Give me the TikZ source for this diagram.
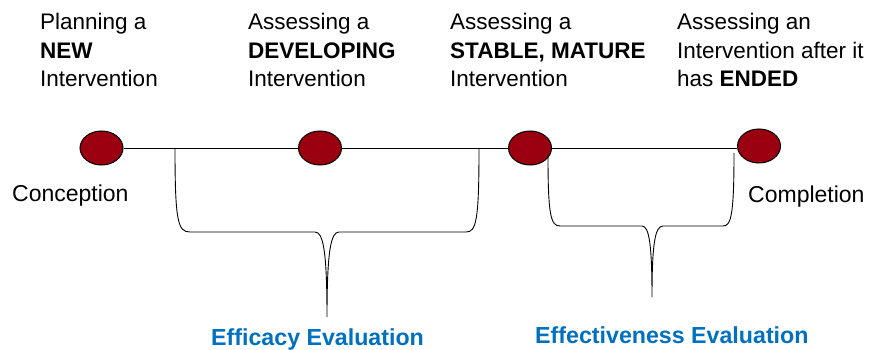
\documentclass[tikz,border=0pt]{standalone}
\usepackage{fontspec}
\setmainfont{Liberation Sans}
\usetikzlibrary{shapes.geometric}
\definecolor{dotred}{RGB}{155,0,16}
\definecolor{evalblue}{RGB}{0,112,192}
\tikzset{
  milestone/.style={ellipse, draw=black, line width=1pt, fill=dotred, minimum width=43pt, minimum height=34pt, inner sep=0pt},
  stagetext/.style={anchor=north west, inner sep=0pt, align=left, font=\fontsize{22.5}{28.5}\selectfont},
  endtext/.style={anchor=base west, inner sep=0pt, font=\fontsize{23}{28.5}\selectfont},
  evaltext/.style={anchor=base west, inner sep=0pt, text=evalblue, font=\fontsize{23.2}{28.5}\selectfont\bfseries},
  timeline/.style={line width=1pt, draw=black},
  bracket/.style={line width=0.9pt, draw=black}
}
\begin{document}
\begin{tikzpicture}[x=1pt,y=-1pt]
\useasboundingbox (0,0) rectangle (875,350);
% milestones
\node[milestone] (e1) at (101.5,148) {};
\node[milestone] (e2) at (320,148) {};
\node[milestone] (e3) at (530,148) {};
\node[milestone] (e4) at (759,146) {};
\draw[timeline] (e1.east) -- (e2.west);
\draw[timeline] (e2.east) -- (e3.west);
\draw[timeline] (e3.east) -- (e3.east -| e4.west);
% stage texts
\node[stagetext] (s1) at (40,13) {Planning a\\\textbf{NEW}\\Intervention};
\node[stagetext] (s2) at (248,13) {Assessing a\\\textbf{DEVELOPING}\\Intervention};
\node[stagetext] (s3) at (450,13) {Assessing a\\\textbf{STABLE, MATURE}\\Intervention};
\node[stagetext] (s4) at (677,13) {Assessing an\\Intervention after it\\has \textbf{ENDED}};
\node[endtext] (conc) at (12,201) {Conception};
\node[endtext] (comp) at (748,202) {Completion};
% braces
\coordinate (b1l) at (175,149);
\coordinate (b1r) at (479,149);
\coordinate (b1t) at (327,317);
\draw[bracket] (b1l) .. controls (175,222) and (178,232) .. (190,232) -- (315,232)
  .. controls (323,232) and (327,250) .. (b1t)
  .. controls (327,250) and (331,232) .. (339,232) -- (466,232)
  .. controls (476,232) and (479,222) .. (b1r);
\coordinate (b2l) at (548,157);
\coordinate (b2r) at (734,153);
\coordinate (b2t) at (652,297);
\draw[bracket] (b2l) .. controls (548,216) and (551,226) .. (560,226) -- (642,226)
  .. controls (649,226) and (652,244) .. (b2t)
  .. controls (652,244) and (655,226) .. (663,226) -- (723,226)
  .. controls (731,226) and (734,216) .. (b2r);
% evaluation labels
\node[evaltext] (ev1) at (211,345) {Efficacy Evaluation};
\node[evaltext] (ev2) at (535,343) {Effectiveness Evaluation};
\end{tikzpicture}
\end{document}
